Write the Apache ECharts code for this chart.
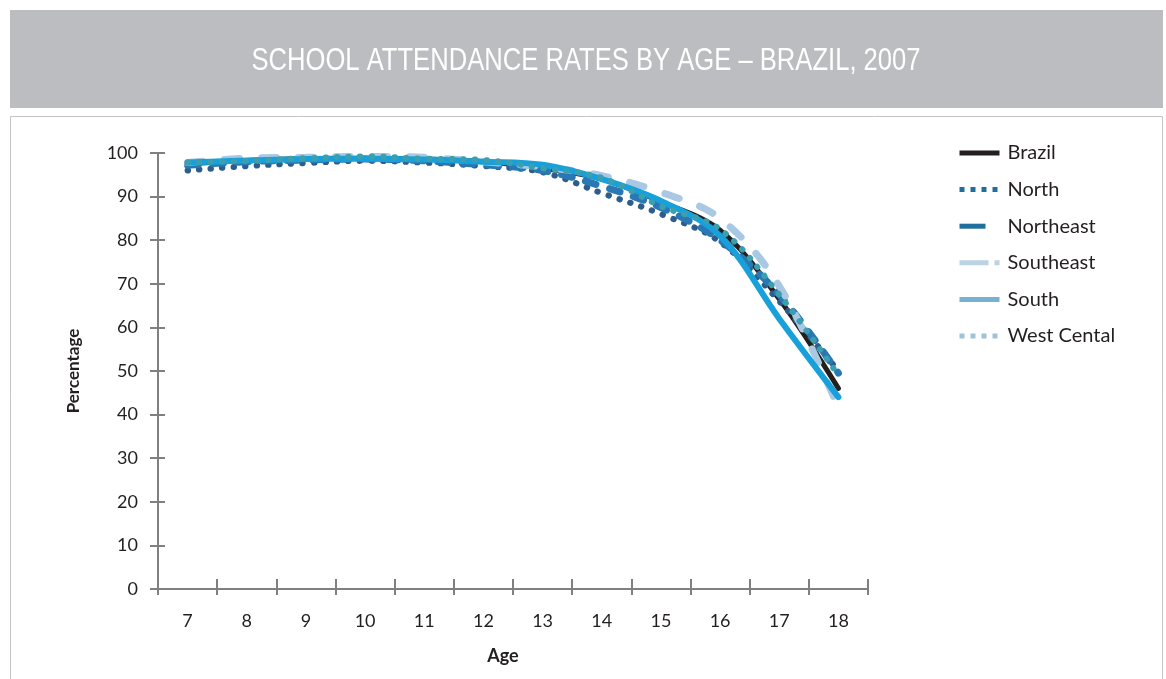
<!DOCTYPE html>
<html>
<head>
<meta charset="utf-8">
<script src="https://cdn.jsdelivr.net/npm/echarts@6/dist/echarts.min.js"></script>
<style>
  html, body { margin: 0; padding: 0; background: #fff; }
  #chart { width: 1166px; height: 679px; }
</style>
</head>
<body>
<div id="chart"></div>
<script>
var ages = ['7', '8', '9', '10', '11', '12', '13', '14', '15', '16', '17', '18'];
var yTicks = [0, 10, 20, 30, 40, 50, 60, 70, 80, 90, 100];

var brazil      = [97.5, 98.3, 98.7, 98.8, 98.6, 98.0, 96.5, 94.0, 88.8, 82.3, 66.5, 46.0];
var north       = [96.0, 97.0, 97.7, 98.2, 97.8, 97.0, 95.6, 90.8, 86.0, 79.6, 66.0, 50.0];
var northeast   = [97.2, 98.0, 98.4, 98.6, 98.2, 97.3, 96.0, 92.4, 87.5, 80.0, 67.5, 49.5];
var southeast   = [97.8, 98.8, 99.0, 99.2, 99.0, 98.0, 96.8, 94.8, 91.0, 85.0, 69.5, 41.5];
var south       = [97.8, 98.3, 98.6, 98.7, 98.5, 98.0, 97.3, 94.0, 89.0, 81.0, 62.0, 44.0];
var westCentral = [97.8, 98.2, 98.8, 99.2, 98.7, 98.4, 96.5, 94.3, 87.8, 82.5, 67.5, 49.0];

var font = 'Lato';
var noMark = { color: 'rgba(0,0,0,0)', borderWidth: 0 };

var chart = echarts.init(document.getElementById('chart'));

function line(name, data, color, width, type) {
  return {
    name: name,
    type: 'line',
    data: data,
    smooth: 0.35,
    symbol: 'none',
    lineStyle: { color: color, width: width, type: type, cap: 'round' },
    itemStyle: { color: color }
  };
}

var option = {
  animation: false,
  graphic: [
    { type: 'rect', shape: { x: 10, y: 10, width: 1153, height: 98 }, style: { fill: '#bcbdc0' }, silent: true },
    { type: 'rect', shape: { x: 10.5, y: 116.5, width: 1152, height: 570 }, style: { fill: 'none', stroke: '#c4c4c4', lineWidth: 1 }, silent: true },
    { type: 'text', x: 586, y: 61, scaleX: 0.8, style: {
        text: 'SCHOOL ATTENDANCE RATES BY AGE \u2013 BRAZIL, 2007',
        fill: '#ffffff', font: '32px "Liberation Sans"', align: 'center', verticalAlign: 'middle'
      }, silent: true }
  ],
  legend: {
    orient: 'vertical',
    left: 952,
    top: 138,
    itemWidth: 40,
    itemHeight: 14,
    itemGap: 16.6,
    textStyle: { fontFamily: font, fontSize: 20, color: '#231f20', padding: [0, 0, 0, 3] },
    data: [
      { name: 'Brazil', itemStyle: noMark, lineStyle: { color: '#231f20', width: 5, type: 'solid', cap: 'butt' } },
      { name: 'North', itemStyle: noMark, lineStyle: { color: '#1f6e9c', width: 5, type: [5, 6], cap: 'butt' } },
      { name: 'Northeast', itemStyle: noMark, lineStyle: { color: '#1f6e9c', width: 5, type: [26, 20], cap: 'butt' } },
      { name: 'Southeast', itemStyle: noMark, lineStyle: { color: '#b9d3e2', width: 5, type: [29, 6], cap: 'butt' } },
      { name: 'South', itemStyle: noMark, lineStyle: { color: '#76b1cf', width: 5, type: 'solid', cap: 'butt' } },
      { name: 'West Cental', itemStyle: noMark, lineStyle: { color: '#9dc3d8', width: 5, type: [5, 6], cap: 'butt' } }
    ]
  },
  grid: { left: 158, right: 298, top: 153, bottom: 90 },
  xAxis: [{
    type: 'category',
    data: ages,
    boundaryGap: true,
    name: 'Age',
    nameLocation: 'middle',
    nameGap: 58,
    nameTextStyle: { fontFamily: font, fontSize: 18, fontWeight: 'bold', color: '#231f20', padding: [0, 20, 0, 0] },
    axisLine: { lineStyle: { color: '#808080', width: 2 } },
    axisTick: { show: true, length: 6, lineStyle: { color: '#808080', width: 2 } },
    axisLabel: { fontFamily: font, fontSize: 18, color: '#231f20', margin: 23 },
    splitLine: { show: false }
  }, {
    type: 'category',
    data: ages,
    position: 'bottom',
    boundaryGap: true,
    axisLine: { show: false },
    axisTick: { show: true, inside: true, length: 10, lineStyle: { color: '#808080', width: 2 } },
    axisLabel: { show: false },
    splitLine: { show: false }
  }],
  yAxis: [{
    type: 'value',
    min: yTicks[0],
    max: yTicks[yTicks.length - 1],
    interval: 10,
    name: 'Percentage',
    nameLocation: 'middle',
    nameRotate: 90,
    nameGap: 76,
    nameTextStyle: { fontFamily: font, fontSize: 17, fontWeight: 'bold', color: '#231f20' },
    axisLine: { show: true, lineStyle: { color: '#808080', width: 2 } },
    axisTick: { show: true, length: 8, lineStyle: { color: '#808080', width: 2 } },
    axisLabel: { fontFamily: font, fontSize: 18, color: '#231f20', margin: 20 },
    splitLine: { show: false }
  }, {
    type: 'value',
    position: 'left',
    min: yTicks[0],
    max: yTicks[yTicks.length - 1],
    interval: 10,
    axisLine: { show: false },
    axisTick: { show: true, inside: true, length: 7, lineStyle: { color: '#808080', width: 2 } },
    axisLabel: { show: false },
    splitLine: { show: false }
  }],
  series: [
    line('Brazil', brazil, '#231f20', 5, 'solid'),
    line('North', north, '#2d5d8c', 6, [0.5, 11]),
    line('Northeast', northeast, '#2a78b3', 7, [11, 14]),
    line('Southeast', southeast, '#a8c8e4', 7, [15, 22]),
    line('South', south, '#18a0da', 6, 'solid'),
    line('West Cental', westCentral, '#3a9fae', 6, [0.5, 11])
  ]
};

chart.setOption(option);
window.addEventListener('resize', function () { chart.resize(); });
</script>
</body>
</html>
